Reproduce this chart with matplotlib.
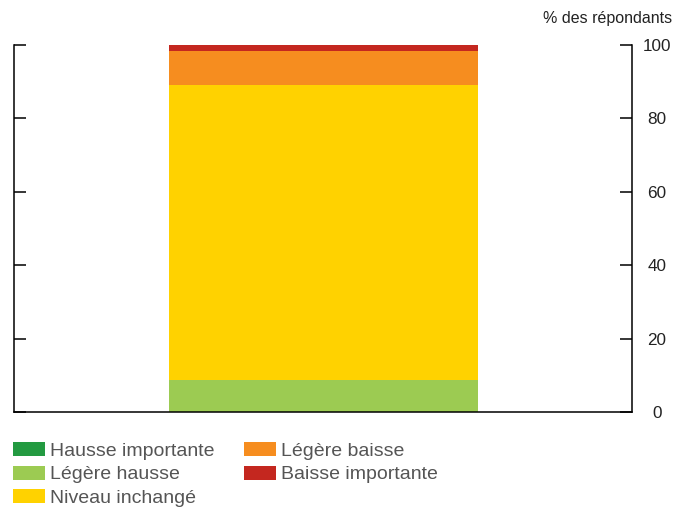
import matplotlib.pyplot as plt

plt.rcParams['font.family'] = ['Liberation Sans', 'DejaVu Sans']

categories = ["Hausse importante", "Légère hausse", "Niveau inchangé", "Légère baisse", "Baisse importante"]
values = [0.0, 8.7, 80.4, 9.3, 1.6]
colors = ["#239a41", "#9ccb52", "#ffd200", "#f68d1f", "#c4271f"]
yticks = [0, 20, 40, 60, 80, 100]

fig = plt.figure(figsize=(6.87, 5.08), dpi=100)
ax = fig.add_axes([0.0204, 0.189, 0.8996, 0.7224])

bottom = 0
handles = []
for cat, val, col in zip(categories, values, colors):
    h = ax.bar(0, val, width=1.0, bottom=bottom, color=col, label=cat, linewidth=0)
    handles.append(h)
    bottom += val

ax.set_xlim(-1, 1)
ax.set_ylim(0, 100)
ax.set_xticks([])
ax.set_yticks(yticks)
ax.spines['top'].set_visible(False)
for s in ['left', 'right', 'bottom']:
    ax.spines[s].set_linewidth(1.1)
    ax.spines[s].set_color('black')
ax.yaxis.tick_right()
ax.tick_params(axis='y', which='both', direction='in', length=8.5, width=1.1,
               left=True, right=True, labelleft=False, labelright=True,
               labelsize=12.3, labelcolor='#222222', pad=18)
for lab in ax.get_yticklabels():
    lab.set_horizontalalignment('center')
ax.set_zorder(1)

fig.text(0.978, 0.963, "% des répondants", ha='right', va='center', fontsize=11.5, color='#222222')

leg = fig.legend(handles=handles, labels=categories, ncol=2, loc='upper left',
                 bbox_to_anchor=(0.019, 0.129), frameon=False, fontsize=14,
                 handlelength=1.65, handleheight=0.72, handletextpad=0.26,
                 columnspacing=1.5, labelspacing=0.28, borderaxespad=0, borderpad=0)
for t in leg.get_texts():
    t.set_color('#555555')

fig.savefig("out.png", dpi=100)
